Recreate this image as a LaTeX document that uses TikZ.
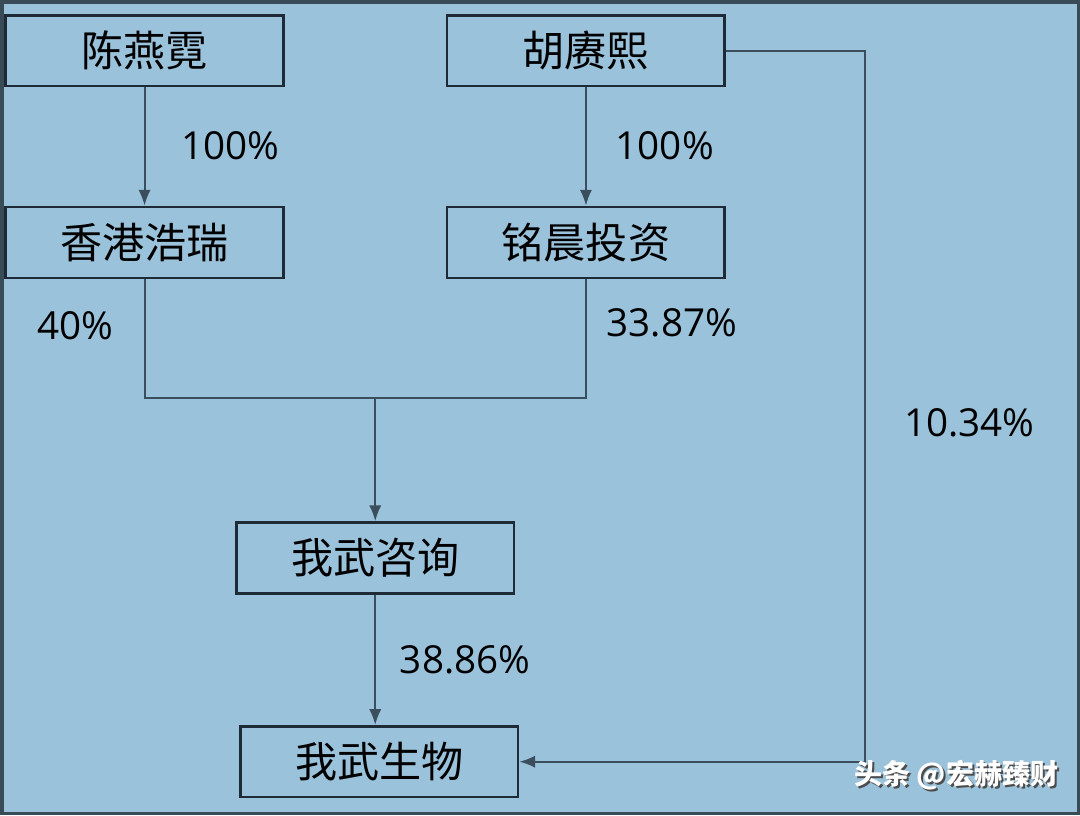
\documentclass[tikz,border=0pt]{standalone}
\usepackage{fontspec}
\setmainfont{Open Sans}
\newfontfamily\cjk{Noto Sans CJK SC}
\usetikzlibrary{arrows.meta}
\definecolor{bgblue}{HTML}{9BC2DB}
\definecolor{boxline}{HTML}{1E2B36}
\definecolor{linkgray}{HTML}{3A4E5E}
\definecolor{framegray}{HTML}{3A4B58}

\begin{document}
\begin{tikzpicture}[x=0.02cm,y=-0.02cm,
    entity/.style={draw=boxline, line width=1.5pt, minimum width=5.56cm,
      minimum height=1.42cm, inner sep=0pt, font=\cjk\fontsize{24}{28}\selectfont},
    share/.style={font=\fontsize{22}{26}\selectfont, text=black},
    link/.style={draw=linkgray, line width=1.2pt},
    arrow/.style={link, -{Latex[length=9pt,width=7pt]}}]
                % Hintergrund
                \fill[bgblue] (0,0) rectangle (1080,815);
                \draw[framegray, line width=2pt] (1,1) rectangle (1079,814);
                \useasboundingbox (0,0) rectangle (1080,815);

                % Personen und Firmen
                \node[entity] (chen) at (144,50) {陈燕霓};
                \node[entity] (hu) at (586,50) {胡赓熙};
                \node[entity] (haorui) at (144,242) {香港浩瑞};
                \node[entity] (mingchen) at (586,242) {铭晨投资};
                \node[entity] (zixun) at (375,558) {我武咨询};
                \node[entity] (shengwu) at (379,762) {我武生物};

                % Verbindungen
                \draw[arrow] (chen.south) -- (haorui.north);
                \draw[arrow] (hu.south) -- (mingchen.north);
                \coordinate (merge) at (375,398);
                \draw[link] (haorui.south) |- (merge) -| (mingchen.south);
                \draw[arrow] (merge) -- (zixun.north);
                \draw[arrow] (zixun.south) -- (zixun.south |- shengwu.north);
                \coordinate (bend) at (865,762);
                \draw[arrow] (hu.east) -| (bend) -- (shengwu.east);

                % Anteile
                \node[share] (p1) at (230,145) {100\%};
                \node[share] (p2) at (665,145) {100\%};
                \node[share] (p3) at (75,325) {40\%};
                \node[share] (p4) at (672,322) {33.87\%};
                \node[share] (p5) at (465,660) {38.86\%};
                \node[share] (p6) at (970,423) {10.34\%};

                % Wasserzeichen
                \node[font=\cjk\bfseries\fontsize{16}{19}\selectfont, text=black!70] (wmshadow) at (959,777) {头条 @宏赫臻财};
                \node[font=\cjk\bfseries\fontsize{16}{19}\selectfont, text=white] (wm) at (957,775) {头条 @宏赫臻财};
\end{tikzpicture}
\end{document}
